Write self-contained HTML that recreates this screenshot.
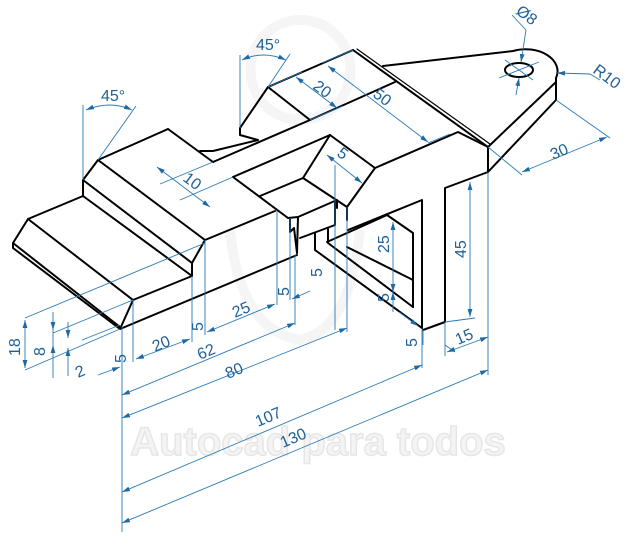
<!DOCTYPE html>
<html><head><meta charset="utf-8"><style>
html,body{margin:0;padding:0;background:#fff;}
svg{display:block;}
.k{stroke:#000;stroke-width:2;fill:none;stroke-linejoin:round;stroke-linecap:round;}
.b{stroke:#2a7ab5;stroke-width:0.9;fill:none;}
.t{font-family:"Liberation Sans",sans-serif;font-size:16px;fill:#1d5f96;}
.w{font-family:"Liberation Sans",sans-serif;font-weight:bold;font-size:40px;fill:#f4f4f4;stroke:#e6e6e6;stroke-width:1.5;}
</style></head><body>
<svg width="635" height="545" viewBox="0 0 635 545" xmlns="http://www.w3.org/2000/svg">
<defs>
<marker id="a" viewBox="0 0 10 6" refX="10" refY="3" markerWidth="8" markerHeight="5" orient="auto-start-reverse" markerUnits="userSpaceOnUse"><path d="M0,0 L10,3 L0,6 z" fill="#1d6aa3"/></marker>
</defs>
<text class="w" x="318" y="455" text-anchor="middle">Autocad para todos</text>
<path d="M230,230 Q240,330 300,340 Q350,330 360,230 M300,120 A50,50 0 1 1 301,120" stroke="#f5f5f5" stroke-width="10" fill="none"/>

<g class="k">
<path d="M28,219 L13,243 L13,248 L120,329 L133,300 L28,219"/>
<path d="M13,243 L120,327"/>
<path d="M133,300 L192,276"/>
<path d="M120,329 L297,255"/>
<path d="M28,219 L83,196 L83,180 L98,160 L168,129"/>
<path d="M83,196 L192,276 L192,263 L205,240 L98,160"/>
<path d="M83,180 L192,263"/>
<path d="M205,240 L275,211"/>
<path d="M168,129 L213,162"/>
<path d="M200,151 L213,151 L258,140 L240,135 L240,128"/>
<path d="M240,128 L268,87 L353,50"/>
<path d="M268,87 L310,120 L395,82"/>
<path d="M213,162 L310,120"/>
<path d="M233,177 L330,135"/>
<path d="M233,177 L288,218"/>
<path d="M330,135 L303,178 L260,196"/>
<path d="M330,135 L375,168 L347,207 L303,178"/>
<path d="M347,207 L347,220"/>
<path d="M288,218 L298,217 L337,200 L337,208"/>
<path d="M290,218 L290,232 L294,228 L297,253"/>
<path d="M298,217 L297,253"/>
<path d="M375,168 L458,132 L488,147"/>
<path d="M353,50 L488,147"/>
<path d="M357,49 L490,144" stroke-width="1.2"/>
<path d="M488,147 L488,172 L445,188 L445,322 L423,330"/>
<path d="M383,66 L513,51 A32,22 0 0 1 556,78 L556,100 L488,172"/>
<path d="M556,82 L488,147"/>
<ellipse cx="519" cy="70" rx="14" ry="7"/>
<path d="M335,202 L335,225 L300,238"/>
<path d="M315,233 L315,250 L422,328"/>
<path d="M328,228 L328,243 L413,307"/>
<path d="M327,242 L387,215 L413,233 L413,307"/>
<path d="M348,230 L422,200 L422,328"/>
<path d="M347,247 L413,280"/>
</g>

<g class="b">
<path d="M83,180 L83,105 M98,160 L136,106"/>
<path d="M86,110 Q110,100 132,110" marker-start="url(#a)" marker-end="url(#a)"/>
<path d="M240,128 L240,55 M268,87 L290,54"/>
<path d="M242,60 Q263,50 286,60" marker-start="url(#a)" marker-end="url(#a)"/>
<path d="M268,87 L302,72 M310,120 L343,106"/>
<path d="M296,77 L337,108" marker-start="url(#a)" marker-end="url(#a)"/>
<path d="M353,50 L322,63 M428,143 L450,134"/>
<path d="M328,66 L428,142" marker-start="url(#a)" marker-end="url(#a)"/>
<path d="M213,162 L160,184 M233,177 L180,200"/>
<path d="M157,167 L210,207" marker-start="url(#a)" marker-end="url(#a)"/>
<path d="M327,155 L362,183" marker-start="url(#a)" marker-end="url(#a)"/>
<path d="M335,165 L335,330 M347,207 L347,328"/>
<path d="M499,78 L539,62 M505,60 L533,80"/>
<path d="M526,30 L521,62" marker-end="url(#a)"/>
<path d="M516,95 L519,78" marker-end="url(#a)"/>
<path d="M512,15 L526,30"/>
<path d="M590,74 L557,73" marker-end="url(#a)"/>
<path d="M590,74 L600,80"/>
<path d="M488,147 L522,175 M556,100 L610,138"/>
<path d="M522,172 L607,137" marker-start="url(#a)" marker-end="url(#a)"/>
<path d="M470,182 L470,317" marker-start="url(#a)" marker-end="url(#a)"/>
<path d="M445,322 L475,318"/>
<path d="M393,222 L393,292" marker-start="url(#a)" marker-end="url(#a)"/>
<path d="M393,292 L393,312" marker-start="url(#a)"/>
<path d="M399,312 L418,326" marker-end="url(#a)"/>
<path d="M445,345 L455,352 M423,330 L423,345"/>
<path d="M445,322 L445,356 M488,172 L488,375"/>
<path d="M447,352 L488,337" marker-start="url(#a)" marker-end="url(#a)"/>
<path d="M122,327 L122,532 M422,330 L422,368 M347,328 L347,332 M295,255 L295,325"/>
<path d="M122,523 L488,370" marker-start="url(#a)" marker-end="url(#a)"/>
<path d="M122,492 L422,365" marker-start="url(#a)" marker-end="url(#a)"/>
<path d="M122,418 L347,328" marker-start="url(#a)" marker-end="url(#a)"/>
<path d="M122,395 L295,323" marker-start="url(#a)" marker-end="url(#a)"/>
<path d="M133,300 L133,362 M192,276 L192,342 M205,240 L205,335 M277,211 L277,305 M290,218 L290,300"/>
<path d="M98,375 L120,367" marker-end="url(#a)"/>
<path d="M136,359 L190,339" marker-start="url(#a)" marker-end="url(#a)"/>
<path d="M207,332 L275,304" marker-start="url(#a)" marker-end="url(#a)"/>
<path d="M292,299 L310,291" marker-start="url(#a)"/>
<path d="M25,318 L205,243 M25,370 L120,329 M53,333 L133,300 M82,340 L120,325"/>
<path d="M25,320 L25,368" marker-start="url(#a)" marker-end="url(#a)"/>
<path d="M53,312 L53,330" marker-end="url(#a)"/>
<path d="M53,378 L53,345" marker-end="url(#a)"/>
<path d="M53,330 L53,345"/>
<path d="M68,322 L68,338" marker-end="url(#a)"/>
<path d="M68,376 L68,348" marker-end="url(#a)"/>
</g>

<g class="t">
<text x="101" y="101">45°</text>
<text x="256" y="50">45°</text>
<text transform="translate(312,88) rotate(37)">20</text>
<text transform="translate(372,96) rotate(37)">50</text>
<text transform="translate(182,180) rotate(37)">10</text>
<text transform="translate(336,155) rotate(37)">5</text>
<text transform="translate(515,13) rotate(37)">Ø8</text>
<text transform="translate(592,72) rotate(37)">R10</text>
<text transform="translate(553,160) rotate(-23)">30</text>
<text transform="translate(466,258) rotate(-90)">45</text>
<text transform="translate(389,253) rotate(-90)">25</text>
<text transform="translate(389,302) rotate(-90)">5</text>
<text transform="translate(322,277) rotate(-90)">5</text>
<text transform="translate(417,347) rotate(-90)">5</text>
<text transform="translate(458,345) rotate(-23)">15</text>
<text transform="translate(126,363) rotate(-90)">5</text>
<text transform="translate(155,352) rotate(-23)">20</text>
<text transform="translate(203,331) rotate(-90)">5</text>
<text transform="translate(235,318) rotate(-23)">25</text>
<text transform="translate(289,296) rotate(-90)">5</text>
<text transform="translate(200,360) rotate(-23)">62</text>
<text transform="translate(228,379) rotate(-23)">80</text>
<text transform="translate(258,427) rotate(-23)">107</text>
<text transform="translate(283,448) rotate(-23)">130</text>
<text transform="translate(20,356) rotate(-90)">18</text>
<text transform="translate(45,356) rotate(-90)">8</text>
<text transform="translate(78,378) rotate(-23)">2</text>
</g>
</svg>
</body></html>
